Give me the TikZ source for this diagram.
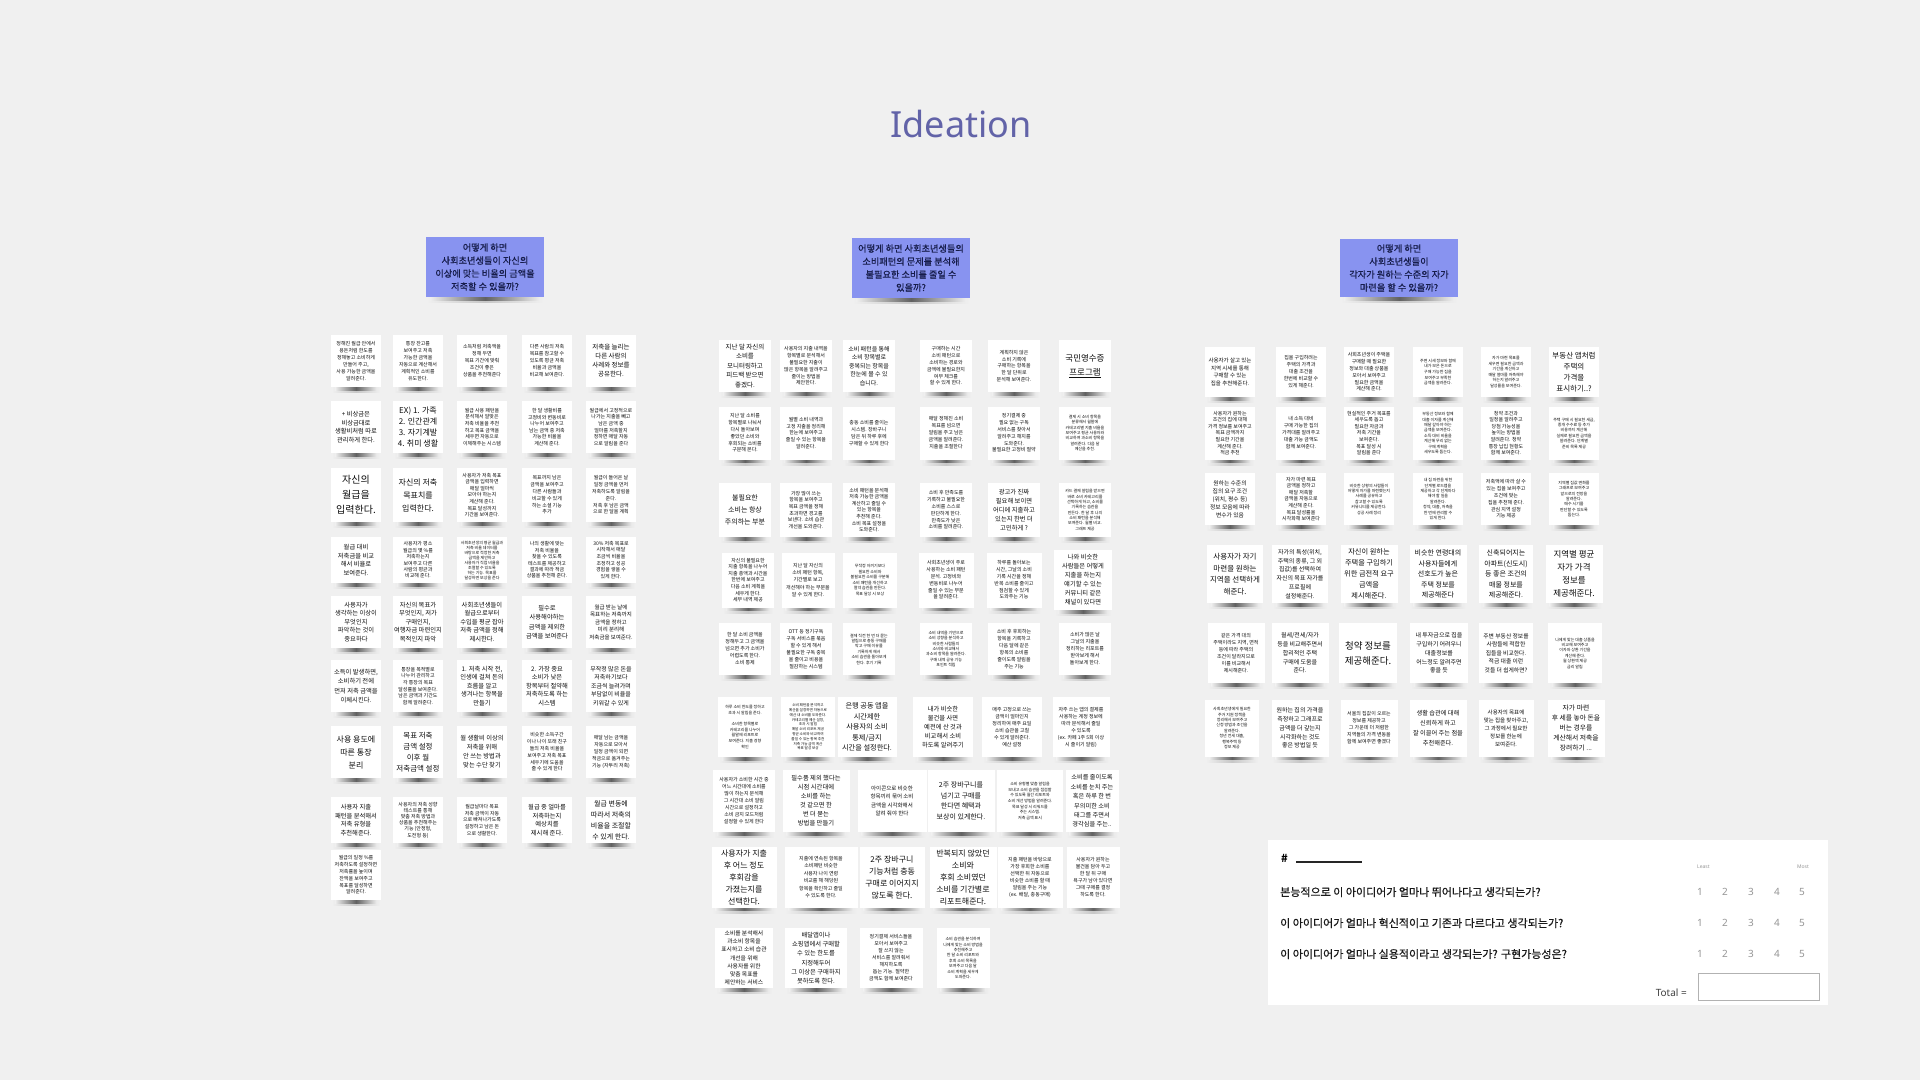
\documentclass[tikz,border=0pt]{standalone}
\usepackage{fontspec}
\setmainfont{Noto Sans CJK KR}
\newfontfamily\latinfont{Noto Sans}
\newfontfamily\heavyfont[FakeBold=0.6]{Noto Sans CJK KR}
\usetikzlibrary{positioning}

\definecolor{bgc}{RGB}{240,240,240}
\definecolor{titlec}{RGB}{98,99,168}
\definecolor{hdrblue}{RGB}{136,147,240}
\definecolor{hdrtext}{RGB}{22,28,74}
\definecolor{numgray}{RGB}{150,150,150}

\pgfdeclarelayer{back}
\pgfdeclarelayer{shadow}
\pgfsetlayers{back,shadow,main}

\tikzset{
  sz/.style 2 args={font=\fontsize{#1}{#2}\selectfont},
  note/.style={fill=white, inner sep=1pt, align=center, text=black!95,
    minimum width=50pt, minimum height=52pt},
  hdr/.style={fill=hdrblue, text=hdrtext, align=center, inner sep=2pt,
    minimum width=118pt, minimum height=60pt, font=\heavyfont\fontsize{9.2}{13}\selectfont},
  qtext/.style={anchor=west, inner sep=0pt, text=black!90, font=\heavyfont\fontsize{11}{13}\selectfont},
  num/.style={inner sep=0pt, text=numgray, font=\latinfont\fontsize{10}{12}\selectfont},
  scale label/.style={inner sep=0pt, text=numgray, font=\latinfont\fontsize{5}{6}\selectfont},
}

% sticky note with a curled-paper shadow under its bottom edge
\newcommand\postit[4][]{%
  \node[note,#1] (#2) at (#3) {#4};
  \begin{pgfonlayer}{shadow}
    \shade[left color=bgc, right color=bgc, middle color=black!22]
      ([xshift=1pt,yshift=1pt]#2.south west) rectangle ([xshift=-1pt,yshift=-5.5pt]#2.south east);
    \shade[left color=bgc, right color=bgc, middle color=black!62]
      ([xshift=4pt,yshift=1pt]#2.south west) rectangle ([xshift=-4pt,yshift=-3pt]#2.south east);
  \end{pgfonlayer}}

\begin{document}
\begin{tikzpicture}[x=1pt, y=-1pt]
\begin{pgfonlayer}{back}
  \fill[bgc] (0,0) rectangle (1920,1080);
\end{pgfonlayer}
\useasboundingbox (0,0) rectangle (1920,1080);

\node[anchor=base, text=titlec, font=\latinfont\fontsize{36}{40}\selectfont] (title) at (961,137) {Ideation};

% ---------- question headers ----------
\postit[hdr]{h1}{485,267}{어떻게 하면\\사회초년생들이 자신의\\이상에 맞는 비율의 금액을\\저축할 수 있을까?}
\postit[hdr]{h2}{911,268}{어떻게 하면 사회초년생들의\\소비패턴의 문제를 분석해\\불필요한 소비를 줄일 수\\있을까?}
\postit[hdr,minimum height=58pt]{h3}{1399,268}{어떻게 하면\\사회초년생들이\\각자가 원하는 수준의 자가\\마련을 할 수 있을까?}

% ---------- saving ideas ----------
\postit[sz={5}{7}]{L11}{356,361}{정해진 월급 안에서\\용돈처럼 한도를\\정해놓고 소비하게\\만들어 주고,\\사용 가능한 금액을\\알려준다.}
\postit[sz={5}{7}]{L12}{418,361}{통장 잔고를\\보여주고 저축\\가능한 금액을\\자동으로 계산해서\\계획적인 소비를\\유도한다.}
\postit[sz={5}{7}]{L13}{482,361}{소득처럼 저축액을\\정해 두면\\목표 기간에 맞춰\\조건이 좋은\\상품을 추천해준다}
\postit[sz={5}{7}]{L14}{547,361}{다른 사람의 저축\\목표를 참고할 수\\있도록 평균 저축\\비율과 금액을\\비교해 보여준다.}
\postit[sz={6.5}{9}]{L15}{611,361}{저축을 늘리는\\다른 사람의\\사례와 정보를\\공유한다.}

\postit[sz={6.3}{8.5}]{L21}{356,427}{+ 비상금은\\비상금대로\\생활비처럼 따로\\관리하게 한다.}
\postit[sz={8}{11}]{L22}{418,427}{EX) 1. 가족\\2. 인간관계\\3. 자기계발\\4. 취미 생활}
\postit[sz={5}{6.6}]{L23}{482,427}{월급 사용 패턴을\\분석해서 알맞은\\저축 비율을 추천\\하고 목표 금액을\\세우면 자동으로\\이체해주는 시스템}
\postit[sz={5}{6.6}]{L24}{547,427}{한 달 생활비를\\고정비와 변동비로\\나누어 보여주고\\남는 금액 중 저축\\가능한 비율을\\계산해 준다.}
\postit[sz={5}{6.6}]{L25}{611,427}{월급에서 고정적으로\\나가는 지출을 빼고\\남은 금액 중\\얼마를 저축할지\\정하면 매달 자동\\으로 알림을 준다}

\postit[sz={10}{15},minimum height=54pt]{L31}{356,495}{자신의\\월급을\\입력한다.}
\postit[sz={8}{13},minimum height=54pt]{L32}{418,495}{자신의 저축\\목표치를\\입력한다.}
\postit[sz={5}{6.6},minimum height=54pt]{L33}{482,495}{사용자가 저축 목표\\금액을 입력하면\\매달 얼마씩\\모아야 하는지\\계산해 준다.\\목표 달성까지\\기간을 보여준다.}
\postit[sz={5}{6.8},minimum height=54pt]{L34}{547,495}{목표까지 남은\\금액을 보여주고\\다른 사람들과\\비교할 수 있게\\하는 소셜 기능\\추가}
\postit[sz={5}{6.8},minimum height=54pt]{L35}{611,495}{월급이 들어온 날\\일정 금액을 먼저\\저축하도록 알림을\\준다.\\저축 후 남은 금액\\으로 한 달을 계획}

\postit[sz={6.3}{8.5},minimum height=46pt]{L41}{356,560}{월급 대비\\저축금을 비교\\해서 비율로\\보여준다.}
\postit[sz={5}{6.4},minimum height=46pt]{L42}{418,560}{사용자가 평소\\월급의 몇 \%를\\저축하는지\\보여주고 다른\\사람의 평균과\\비교해 준다.}
\postit[sz={4}{5},minimum height=46pt]{L43}{482,560}{사회초년생의 평균 월급과\\저축 비율 데이터를\\바탕으로 적정한 저축\\금액을 제안하고\\사용자가 직접 비율을\\조절할 수 있도록\\하는 기능. 목표를\\달성하면 보상을 준다}
\postit[sz={5}{6.4},minimum height=46pt]{L44}{547,560}{나의 생활에 맞는\\저축 비율을\\찾을 수 있도록\\테스트를 제공하고\\결과에 따라 적금\\상품을 추천해 준다.}
\postit[sz={5}{6.6},minimum height=46pt]{L45}{611,560}{30\% 저축 목표로\\시작해서 매달\\조금씩 비율을\\조정하고 성공\\경험을 쌓을 수\\있게 한다.}

\postit[sz={6.3}{8.6}]{L51}{356,622}{사용자가\\생각하는 이상이\\무엇인지\\파악하는 것이\\중요하다}
\postit[sz={6.3}{8.6}]{L52}{418,622}{자신의 목표가\\무엇인지, 저가\\구매인지,\\여행자금 마련인지\\목적인지 파악}
\postit[sz={6.3}{8.6}]{L53}{482,622}{사회초년생들이\\월급으로부터\\수입을 평균 잡아\\저축 금액을 정해\\제시한다.}
\postit[sz={6.3}{9.5}]{L54}{547,622}{필수로\\사용해야하는\\금액을 제외한\\금액을 보여준다}
\postit[sz={5.5}{7.5}]{L55}{611,622}{월급 받는 날에\\목표하는 저축까지\\금액을 정하고\\미리 분리해\\저축금을 보여준다.}

\postit[sz={6.3}{9.5}]{L61}{356,686}{소득이 발생하면,\\소비하기 전에\\먼저 저축 금액을\\이체시킨다.}
\postit[sz={5}{6.6}]{L62}{418,686}{통장을 목적별로\\나누어 관리하고\\각 통장의 목표\\달성률을 보여준다.\\남은 금액과 기간도\\함께 알려준다.}
\postit[sz={6.3}{8.6}]{L63}{482,686}{1. 저축 시작 전,\\인생에 걸쳐 돈의\\흐름을 알고\\생겨나는 항목을\\만들기}
\postit[sz={6.3}{8.6}]{L64}{547,686}{2. 가장 중요\\소비가 낮은\\항목부터 절약해\\저축하도록 하는\\시스템}
\postit[sz={6}{8.6}]{L65}{611,686}{무작정 많은 돈을\\저축하기보다\\조금씩 늘려가며\\부담없이 비율을\\키워갈 수 있게}

\postit[sz={8}{13}]{L71}{356,752}{사용 용도에\\따른 통장\\분리}
\postit[sz={7.5}{11}]{L72}{418,752}{목표 저축\\금액 설정\\이후 월\\저축금액 설정}
\postit[sz={6.3}{9}]{L73}{482,752}{월 생활비 이상의\\저축을 위해\\안 쓰는 방법과\\맞는 수단 찾기}
\postit[sz={5}{6.8}]{L74}{547,752}{비슷한 소득구간\\이나 나이 또래 친구\\들의 저축 비율을\\보여주고 저축 목표\\세우기에 도움을\\줄 수 있게 한다}
\postit[sz={5}{6.8}]{L75}{611,752}{매달 남는 금액을\\자동으로 모아서\\일정 금액이 되면\\적금으로 옮겨주는\\기능 (자투리 저축)}

\postit[sz={6.3}{8.6},minimum height=46pt]{L81}{356,820}{사용자 지출\\패턴을 분석해서\\저축 유형을\\추천해준다.}
\postit[sz={5}{6.2},minimum height=46pt]{L82}{418,820}{사용자의 저축 성향\\테스트를 통해\\맞춤 저축 방법과\\상품을 추천해주는\\기능 (안정형,\\도전형 등)}
\postit[sz={5}{6.6},minimum height=46pt]{L83}{482,820}{월급날마다 목표\\저축 금액이 자동\\으로 빠져나가도록\\설정하고 남은 돈\\으로 생활한다.}
\postit[sz={6.3}{8.6},minimum height=46pt]{L84}{547,820}{월급 중 얼마를\\저축하는지\\예상치를\\제시해 준다.}
\postit[sz={7}{11},minimum height=46pt]{L85}{611,820}{월급 변동에\\따라서 저축의\\비율을 조절할\\수 있게 한다.}

\postit[sz={5}{6.8},minimum height=50pt]{L91}{356,875}{월급의 일정 \%를\\저축하도록 설정하면\\저축률을 높이며\\잔액을 보여주고\\목표를 달성하면\\알려준다.}

% ---------- spending ideas ----------
\postit[sz={6.5}{9.5},minimum width=52pt]{M11}{745,366}{지난 달 자신의\\소비를\\모니터링하고\\피드백 받으면\\좋겠다.}
\postit[sz={5}{6.8},minimum width=52pt]{M12}{806,366}{사용자의 지출 내역을\\항목별로 분석해서\\불필요한 지출이\\많은 항목을 알려주고\\줄이는 방법을\\제안한다.}
\postit[sz={6}{8.5},minimum width=52pt]{M13}{869,366}{소비 패턴을 통해\\소비 항목별로\\중복되는 항목을\\한눈에 볼 수 있\\습니다.}
\postit[sz={5}{6.8},minimum width=52pt]{M14}{946,366}{구매하는 시간\\소비 패턴으로\\소비하는 경로와\\금액에 불필요한지\\여부 체크를\\할 수 있게 한다.}
\postit[sz={5}{6.8},minimum width=52pt]{M15}{1014,366}{계획하지 않은\\소비 기록에\\구매하는 항목을\\한 달 단위로\\분석해 보여준다.}
\postit[sz={8.5}{14},minimum width=52pt]{M16}{1085,366}{국민영수증\\\underline{프로그램}}

\postit[sz={5}{6.8},minimum width=52pt,minimum height=53pt]{M21}{745,433}{지난 달 소비를\\항목별로 나눠서\\다시 돌아보며\\좋았던 소비와\\후회되는 소비를\\구분해 본다.}
\postit[sz={5}{6.8},minimum width=52pt,minimum height=53pt]{M22}{806,433}{월별 소비 내역과\\고정 지출을 정리해\\한눈에 보여주고\\줄일 수 있는 항목을\\알려준다.}
\postit[sz={5}{7},minimum width=52pt,minimum height=53pt]{M23}{869,433}{충동 소비를 줄이는\\시스템. 장바구니\\담은 뒤 하루 후에\\구매할 수 있게 한다}
\postit[sz={5}{7},minimum width=52pt,minimum height=53pt]{M24}{946,433}{매달 정해진 소비\\목표를 넘으면\\알림을 주고 남은\\금액을 알려준다.\\지출을 조절한다}
\postit[sz={5}{6.8},minimum width=52pt,minimum height=53pt]{M25}{1014,433}{정기결제 중\\필요 없는 구독\\서비스를 찾아서\\알려주고 해지를\\도와준다.\\불필요한 고정비 절약}
\postit[sz={4}{5.4},minimum width=52pt,minimum height=53pt]{M26}{1085,433}{결제 시 소비 항목을\\분류해서 월말에\\카테고리별 지출 비율을\\보여주고 평균 사용자와\\비교하여 과소비 항목을\\알려준다. 다음 달\\예산을 추천.}

\postit[sz={7}{12},minimum width=52pt,minimum height=54pt]{M31}{745,510}{불필요한\\소비는 항상\\주의하는 부분}
\postit[sz={5}{6.6},minimum width=52pt,minimum height=54pt]{M32}{806,510}{가장 많이 쓰는\\항목을 보여주고\\목표 금액을 정해\\초과하면 경고를\\보낸다. 소비 습관\\개선을 도와준다.}
\postit[sz={5}{6.6},minimum width=52pt,minimum height=54pt]{M33}{869,510}{소비 패턴을 분석해\\저축 가능한 금액을\\계산하고 줄일 수\\있는 항목을\\추천해 준다.\\소비 목표 설정을\\도와준다.}
\postit[sz={5}{6.8},minimum width=52pt,minimum height=54pt]{M34}{946,510}{소비 후 만족도를\\기록하고 불필요한\\소비를 스스로\\판단하게 한다.\\만족도가 낮은\\소비를 알려준다.}
\postit[sz={6.3}{9},minimum width=52pt,minimum height=54pt]{M35}{1014,510}{광고가 진짜\\필요해 보이면\\어디에 지출하고\\있는지 한번 더\\고민하게 ?}
\postit[sz={4}{5.3},minimum width=52pt,minimum height=54pt]{M36}{1085,510}{카드 결제 알림을 받으면\\바로 소비 카테고리를\\선택하게 하고, 소비를\\기록하는 습관을\\만든다. 한 달 후 나의\\소비 패턴을 분석해\\보여준다. 월별 비교.\\그래프 제공}

\postit[sz={5}{6.6},minimum width=52pt,minimum height=55pt]{M41}{748,580}{자신의 불필요한\\지출 항목을 나누어\\지출 총액과 시간을\\한번에 보여주고\\다음 소비 계획을\\세우게 한다.\\세부 내역 제공}
\postit[sz={5}{7.2},minimum width=53pt,minimum height=55pt]{M42}{808,580}{지난 달 자신의\\소비 패턴 항목,\\기간별로 보고\\개선해야 하는 부분을\\알 수 있게 한다.}
\postit[sz={4}{5.6},minimum width=54pt,minimum height=55pt]{M43}{870,580}{무작정 아끼기보다\\필요한 소비와\\불필요한 소비를 구분해\\소비 패턴을 개선하고\\절약 습관을 만든다.\\목표 달성 시 보상}
\postit[sz={5}{6.8},minimum width=55pt,minimum height=55pt]{M44}{946,580}{사회초년생이 주로\\사용하는 소비 패턴\\분석. 고정비와\\변동비로 나누어\\줄일 수 있는 부분\\을 알려준다.}
\postit[sz={5}{6.8},minimum width=55pt,minimum height=55pt]{M45}{1014,580}{하루를 돌아보는\\시간, 그날의 소비\\기록 시간을 정해\\반복 소비를 줄이고\\점검할 수 있게\\도와주는 기능}
\postit[sz={6.3}{9},minimum width=58pt,minimum height=60pt]{M46}{1083,580}{나와 비슷한\\사람들은 어떻게\\지출을 하는지\\얘기할 수 있는\\커뮤니티 같은\\채널이 있다면}

\postit[sz={5}{7},minimum width=52pt]{M51}{745,649}{한 달 소비 금액을\\정해두고 그 금액을\\넘으면 추가 소비가\\어렵도록 한다.\\소비 통제}
\postit[sz={5}{7},minimum width=52pt]{M52}{806,649}{OTT 등 정기구독\\구독 서비스를 묶음\\할 수 있게 해서\\불필요한 구독 중복\\을 줄이고 비용을\\절감하는 시스템}
\postit[sz={4}{5.4},minimum width=52pt]{M53}{869,649}{결제 직전 한 번 더 묻는\\알림으로 충동 구매를\\막고 구매 이유를\\기록하게 해서\\소비 습관을 돌아보게\\한다. 후기 기록}
\postit[sz={4}{5.4},minimum width=52pt]{M54}{946,649}{소비 내역을 기반으로\\소비 성향을 분석하고\\비슷한 사람들의\\소비와 비교해서\\과소비 항목을 알려준다.\\구매 내역 공유 기능\\포인트 적립}
\postit[sz={5}{7},minimum width=52pt]{M55}{1014,649}{소비 후 후회하는\\항목을 기록하고\\다음 달에 같은\\항목의 소비를\\줄이도록 알림을\\주는 기능}
\postit[sz={5}{7},minimum width=52pt]{M56}{1085,649}{소비가 많은 날\\그날의 지출을\\정리하는 리포트를\\받아보게 해서\\돌아보게 한다.}

\postit[sz={4}{5.6},minimum width=54pt,minimum height=60pt]{M61}{745,727}{하루 소비 한도를 정하고\\초과 시 알림을 준다.\\\\소비한 항목별로\\카테고리를 나누어\\월말에 리포트로\\보여준다. 지출 경향\\확인}
\postit[sz={3.6}{4.8},minimum width=54pt,minimum height=60pt]{M62}{808,727}{소비 패턴을 분석하고\\예산을 설정하면 자동으로\\예산 내 소비를 도와준다.\\카테고리별 예산 설정,\\초과 시 알림\\매달 소비 리포트 제공\\평균 소비와 비교하여\\줄일 수 있는 항목 추천\\저축 가능 금액 계산\\목표 달성 보상}
\postit[sz={7.2}{10.6},minimum width=59pt,minimum height=60pt]{M63}{867,727}{은행 공동 앱을\\시간제한\\사용자의 소비\\통제/금지\\시간을 설정한다.}
\postit[sz={6.3}{9},minimum width=60pt,minimum height=60pt]{M64}{943,727}{내가 비슷한\\물건을 사면\\예전에 산 것과\\비교해서 소비\\하도록 알려주기}
\postit[sz={5}{7},minimum width=60pt,minimum height=60pt]{M65}{1012,727}{매주 고정으로 쓰는\\금액이 얼마인지\\정리하여 매주 요일\\소비 습관을 고칠\\수 있게 알려준다.\\예산 설정}
\postit[sz={5}{7},minimum width=57pt,minimum height=60pt]{M66}{1081,727}{자주 쓰는 앱의 결제를\\사용하는 계정 정보에\\따라 분석해서 줄일\\수 있도록\\(ex. 카페 1주 5회 이상\\시 줄이기 알림)}

\postit[sz={5}{7},minimum width=62pt,minimum height=62pt]{M71}{744,801}{사용자가 소비한 시간 중\\어느 시간대에 소비를\\많이 하는지 분석해\\그 시간대 소비 알림\\시간으로 설정하고\\소비 금지 모드처럼\\설정할 수 있게 한다}
\postit[sz={6.3}{9},minimum width=67pt,minimum height=62pt]{M72}{816,801}{필수품 제외 했다는\\시점 시간대에\\소비를 하는\\것 같으면 한\\번 더 묻는\\방법을 만들기}
\postit[sz={5.5}{8.3},minimum width=69pt,minimum height=62pt]{M73}{892,801}{아이콘으로 비슷한\\항목끼리 묶어 소비\\금액을 시각화해서\\알려 줘야 한다}
\postit[sz={7}{10.5},minimum width=67pt,minimum height=62pt]{M74}{961,801}{2주 장바구니를\\넘기고 구매를\\한다면 혜택과\\보상이 있게한다.}
\postit[sz={4}{5.6},minimum width=66pt,minimum height=62pt]{M75}{1030,801}{소비 유형별 맞춤 알림을\\보내고 소비 습관을 점검할\\수 있도록 월간 리포트와\\소비 개선 방법을 알려준다.\\목표 달성 시 리워드를\\주는 시스템.\\저축 금액 표시}
\postit[sz={6.2}{9.4},minimum width=53pt,minimum height=62pt]{M76}{1092,801}{소비를 줄이도록\\소비를 눈치 주는\\혹은 하루 한 번\\무의미한 소비\\태그를 주면서\\경각심을 주는..}

\postit[sz={8}{12},minimum width=65pt,minimum height=61pt]{M81}{744,877}{사용자가 지출\\후 어느 정도\\후회감을\\가졌는지를\\선택한다.}
\postit[sz={5}{7.5},minimum width=73pt,minimum height=61pt]{M82}{821,877}{지출에 연속된 항목을\\소비패턴 비슷한\\사용자 나이 연령\\비교를 해 해당된\\항목을 확인하고 줄일\\수 있도록 한다.}
\postit[sz={8}{12},minimum width=65pt,minimum height=61pt]{M83}{892,877}{2주 장바구니\\기능처럼 충동\\구매로 이어지지\\않도록 한다.}
\postit[sz={8}{12},minimum width=67pt,minimum height=61pt]{M84}{963,877}{반복되지 않았던\\소비와\\후회 소비였던\\소비를 기간별로\\리포트해준다.}
\postit[sz={5}{7},minimum width=65pt,minimum height=61pt]{M85}{1030,877}{지출 패턴을 바탕으로\\가장 후회한 소비를\\선택한 뒤 자동으로\\비슷한 소비를 할 때\\알림을 주는 기능\\(ex. 배달, 충동구매)}
\postit[sz={5}{7},minimum width=53pt,minimum height=61pt]{M86}{1093,877}{사용자가 원하는\\물건을 담아 두고\\한 달 뒤 구매\\욕구가 남아 있다면\\그때 구매를 결정\\하도록 한다.}

\postit[sz={5.8}{8.2},minimum width=58pt,minimum height=60pt]{M91}{744,958}{소비를 분석해서\\과소비 항목을\\표시하고 소비 습관\\개선을 위해\\사용자를 위한\\맞춤 목표를\\제안하는 서비스}
\postit[sz={6.3}{9.3},minimum width=62pt,minimum height=60pt]{M92}{816,958}{배달앱이나\\쇼핑앱에서 구매할\\수 있는 한도를\\지정해두어\\그 이상은 구매하지\\못하도록 한다.}
\postit[sz={5}{7},minimum width=63pt,minimum height=60pt]{M93}{891,958}{정기결제 서비스들을\\모아서 보여주고\\잘 쓰지 않는\\서비스를 알려줘서\\해지하도록\\돕는 기능. 절약한\\금액도 함께 보여준다}
\postit[sz={4}{5.4},minimum width=53pt,minimum height=60pt]{M94}{963,958}{소비 습관을 분석하여\\나에게 맞는 소비 방법을\\추천해주고\\한 달 소비 리포트와\\후회 소비 목록을\\보여주고 다음 달\\소비 계획을 세우게\\도와준다.}

% ---------- home ownership ideas ----------
\postit[sz={5.5}{7.5},minimum height=50pt]{R11}{1230,372}{사용자가 살고 있는\\지역 시세를 통해\\구매할 수 있는\\집을 추천해준다.}
\postit[sz={5}{7},minimum height=50pt]{R12}{1301,372}{집을 구입하려는\\주택의 가격과\\대출 조건을\\한번에 비교할 수\\있게 해준다.}
\postit[sz={5}{6.8},minimum height=50pt]{R13}{1369,372}{사회초년생이 주택을\\구매할 때 필요한\\정보와 대출 상품을\\모아서 보여주고\\필요한 금액을\\계산해 준다.}
\postit[sz={4}{5.6},minimum height=50pt]{R14}{1438,372}{주변 시세 정보와 함께\\내가 모은 돈으로\\구매 가능한 집을\\보여주고 부족한\\금액을 알려준다.}
\postit[sz={4}{5.6},minimum height=50pt]{R15}{1506,372}{자가 마련 목표를\\세우면 필요한 금액과\\기간을 계산하고\\매달 얼마를 저축해야\\하는지 알려주고\\달성률을 보여준다.}
\postit[sz={7.5}{11},minimum height=50pt]{R16}{1574,372}{부동산 앱처럼\\주택의\\가격을\\표시하기..?}

\postit[sz={5}{6.6},minimum height=53pt]{R21}{1230,433}{사용자가 원하는\\조건의 집에 대해\\가격 정보를 보여주고\\목표 금액까지\\필요한 기간을\\계산해 준다.\\적금 추천}
\postit[sz={5}{7},minimum height=53pt]{R22}{1301,433}{내 소득 대비\\구매 가능한 집의\\가격대를 알려주고\\대출 가능 금액도\\함께 보여준다.}
\postit[sz={5}{6.6},minimum height=53pt]{R23}{1369,433}{현실적인 주거 목표를\\세우도록 돕고\\필요한 자금과\\저축 기간을\\보여준다.\\목표 달성 시\\알림을 준다}
\postit[sz={4}{5.4},minimum height=53pt]{R24}{1438,433}{부동산 정보와 함께\\대출 이자를 계산해\\매달 갚아야 하는\\금액을 보여준다.\\소득 대비 비율을\\계산해 무리 없는\\구매 계획을\\세우도록 돕는다.}
\postit[sz={5}{6.6},minimum height=53pt]{R25}{1506,433}{청약 조건과\\일정을 알려주고\\당첨 가능성을\\높이는 방법을\\알려준다. 청약\\통장 납입 현황도\\함께 보여준다.}
\postit[sz={4}{5.4},minimum height=53pt]{R26}{1574,433}{주택 구매 시 필요한 세금,\\중개 수수료 등 추가\\비용까지 계산해\\실제로 필요한 금액을\\알려준다. 단계별\\준비 목록 제공}

\postit[sz={5.8}{8}]{R31}{1230,499}{원하는 수준의\\집의 요구 조건\\(위치, 평수 등)\\정보 모음에 따라\\변수가 있음}
\postit[sz={5}{6.6}]{R32}{1301,499}{자가 마련 목표\\금액을 정하고\\매달 저축할\\금액을 자동으로\\계산해 준다.\\목표 달성률을\\시각화해 보여준다}
\postit[sz={4}{5.4}]{R33}{1369,499}{비슷한 상황의 사람들이\\어떻게 자가를 마련했는지\\사례를 공유하고\\참고할 수 있도록\\커뮤니티를 제공한다.\\성공 사례 정리}
\postit[sz={4}{5.4}]{R34}{1438,499}{내 집 마련을 위한\\단계별 로드맵을\\제공하고 각 단계마다\\해야 할 일을\\알려준다.\\청약, 대출, 저축을\\한 번에 관리할 수\\있게 한다.}
\postit[sz={5}{6.8}]{R35}{1506,499}{저축액에 따라 살 수\\있는 집을 보여주고\\조건에 맞는\\집을 추천해 준다.\\관심 지역 설정\\기능 제공}
\postit[sz={4}{5.4}]{R36}{1574,499}{지역별 집값 변화를\\그래프로 보여주고\\앞으로의 전망을\\알려준다.\\매수 시기를\\판단할 수 있도록\\돕는다.}

\postit[sz={7.5}{11.5},minimum width=56pt,minimum height=58pt]{R41}{1235,574}{사용자가 자기\\마련을 원하는\\지역을 선택하게\\해준다.}
\postit[sz={6}{8.8},minimum width=56pt,minimum height=58pt]{R42}{1300,574}{자가의 특성(위치,\\주택의 종류, 그 외\\집값)를 선택하여\\자신의 목표 자가를\\프로필에\\설정해준다.}
\postit[sz={7.2}{11},minimum width=57pt,minimum height=58pt]{R43}{1369,574}{자신이 원하는\\주택을 구입하기\\위한 금전적 요구\\금액을\\제시해준다.}
\postit[sz={7}{10.5},minimum width=57pt,minimum height=58pt]{R44}{1438,574}{비슷한 연령대의\\사용자들에게\\선호도가 높은\\주택 정보를\\제공해준다}
\postit[sz={7}{10.5},minimum width=54pt,minimum height=58pt]{R45}{1506,574}{신축되어지는\\아파트(신도시)\\등 좋은 조건의\\매물 정보를\\제공해준다.}
\postit[sz={8.5}{13},minimum width=57pt,minimum height=58pt]{R46}{1574,574}{지역별 평균\\자가 가격\\정보를\\제공해준다.}

\postit[sz={5}{7},minimum width=57pt,minimum height=60pt]{R51}{1236,653}{같은 가격 대의\\주택이라도 지역, 면적\\등에 따라 주택의\\조건이 달라지므로\\이를 비교해서\\제시해준다.}
\postit[sz={6}{8.8},minimum width=57pt,minimum height=60pt]{R52}{1300,653}{월세/전세/자가\\등을 비교해주면서\\합리적인 주택\\구매에 도움을\\준다.}
\postit[sz={9.5}{15},minimum width=58pt,minimum height=60pt]{R53}{1368,653}{청약 정보를\\제공해준다.}
\postit[sz={6}{8.8},minimum width=58pt,minimum height=60pt]{R54}{1439,653}{내 투자금으로 집을\\구입하기 어려우니\\대출정보를\\어느정도 알려주면\\좋을 듯}
\postit[sz={5.8}{8.5},minimum width=54pt,minimum height=60pt]{R55}{1506,653}{주변 부동산 정보를\\사람들에 적합한\\집들을 비교한다.\\적금 대출 이런\\것들 더 쉽게하면?}
\postit[sz={4}{5.4},minimum width=54pt,minimum height=60pt]{R56}{1575,653}{나에게 맞는 대출 상품을\\비교해 보여주고\\이자와 상환 기간을\\계산해 준다.\\월 상환액 제공\\금리 알림}

\postit[sz={4}{5.4},minimum width=54pt,minimum height=57pt]{R61}{1232,728}{사회초년생에게 필요한\\주거 지원 정책을\\정리해서 보여주고\\신청 방법과 조건을\\알려준다.\\청년 전세 대출,\\행복주택 등\\정보 제공}
\postit[sz={6}{8.8},minimum width=57pt,minimum height=57pt]{R62}{1300,728}{원하는 집의 가격을\\측정하고 그래프로\\금액을 더 갚는지\\시각화하는 것도\\좋은 방법일 듯}
\postit[sz={5}{7},minimum width=57pt,minimum height=57pt]{R63}{1369,728}{서울의 집값이 오르는\\정보를 제공하고\\그 가운데 더 저렴한\\지역들의 가격 변동을\\함께 보여주면 좋겠다}
\postit[sz={6.2}{10},minimum width=57pt,minimum height=57pt]{R64}{1438,728}{생활 습관에 대해\\신뢰하게 하고\\잘 이끌어 주는 점을\\추천해준다.}
\postit[sz={5.5}{8},minimum width=55pt,minimum height=57pt]{R65}{1506,728}{사용자의 목표에\\맞는 집을 찾아주고,\\그 과정에서 필요한\\정보를 한눈에\\보여준다.}
\postit[sz={6.8}{10},minimum width=57pt,minimum height=57pt]{R66}{1576,728}{자가 마련\\후 세를 놓아 돈을\\버는 경우를\\계산해서 저축을\\장려하기 ...}

% ---------- evaluation card ----------
\node[fill=white, minimum width=560pt, minimum height=165pt, inner sep=0pt, anchor=north west] (card) at (1268,840) {};
\node[anchor=west, inner sep=0pt, font=\bfseries\fontsize{11}{12}\selectfont] (hash) at (1281,858) {\#};
\coordinate (blankA) at (1296,862);
\coordinate (blankB) at (1362,862);
\draw[line width=1.6pt, black!85] (blankA) -- (blankB);

\node[scale label, anchor=west] (least) at (1697,867) {Least};
\node[scale label, anchor=east] (most) at (1809,867) {Most};

\node[qtext] (q1) at (1280,892) {본능적으로 이 아이디어가 얼마나 뛰어나다고 생각되는가?};
\node[qtext] (q2) at (1280,923) {이 아이디어가 얼마나 혁신적이고 기존과 다르다고 생각되는가?};
\node[qtext] (q3) at (1280,954) {이 아이디어가 얼마나 실용적이라고 생각되는가? 구현가능성은?};

\foreach \q/\yy in {1/892, 2/923, 3/954} {
  \foreach \n/\xx in {1/1700, 2/1725, 3/1751, 4/1777, 5/1802} {
    \node[num] (s\q\n) at (\xx,\yy) {\n};
  }
}

\node[anchor=east, inner sep=0pt, text=black!75, font=\latinfont\fontsize{10}{12}\selectfont] (total) at (1687,993) {Total =};
\node[draw=black!30, line width=0.6pt, fill=white, minimum width=121pt, minimum height=27pt, inner sep=0pt, anchor=west] (totalbox) at (1698,987) {};
\end{tikzpicture}
\end{document}
